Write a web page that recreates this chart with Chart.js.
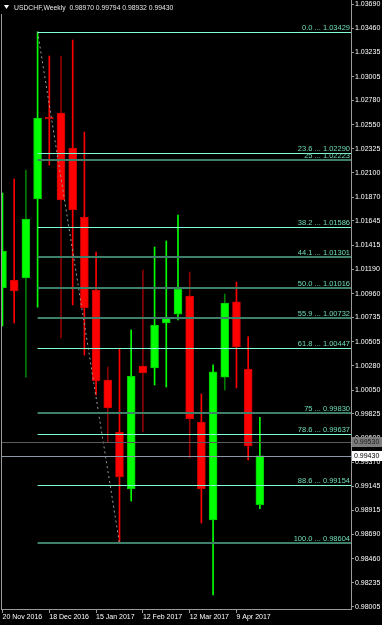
<!DOCTYPE html>
<html><head><meta charset="utf-8">
<script src="https://cdn.jsdelivr.net/npm/chart.js@4.4.1/dist/chart.umd.min.js"></script>
<style>html,body{margin:0;padding:0;background:#000;overflow:hidden}#wrap{position:relative;width:382px;height:625px}</style>
</head><body><div id="wrap"><canvas id="c" width="382" height="625"></canvas></div>
<script>
// ---- data ----
const symbolTitle = 'USDCHF,Weekly';
const lastOHLC = ['0.98970', '0.99794', '0.98932', '0.99430'];
const weeks = ['20 Nov 2016','27 Nov 2016','4 Dec 2016','11 Dec 2016','18 Dec 2016','25 Dec 2016','1 Jan 2017','8 Jan 2017','15 Jan 2017','22 Jan 2017','29 Jan 2017','5 Feb 2017','12 Feb 2017','19 Feb 2017','26 Feb 2017','5 Mar 2017','12 Mar 2017','19 Mar 2017','26 Mar 2017','2 Apr 2017','9 Apr 2017','16 Apr 2017','23 Apr 2017'];
const opens  = [1.01013,1.01088,1.01107,1.01852,1.02625,1.02662,1.02332,1.01682,1.00994,1.00145,0.99655,0.99118,1.00277,1.00258,1.00683,1.00767,1.00937,0.99749,0.98825,1.00173,1.00881,1.00249,0.98970];
const highs  = [1.01908,1.02040,1.02125,1.03429,1.03200,1.03200,1.03351,1.02483,1.01352,1.00268,1.00437,1.00617,1.01182,1.01399,1.01456,1.01701,1.01163,1.00013,1.00287,1.00956,1.01069,1.00551,0.99794];
const lows   = [1.00654,1.00683,1.00173,1.00833,1.02172,1.00541,1.00852,1.00381,1.00004,0.99561,0.98604,0.99004,0.99655,1.00098,1.00079,1.00711,0.99410,0.98797,0.98118,1.00051,1.00070,0.99391,0.98932];
const closes = [1.01361,1.00984,1.01663,1.02615,1.02606,1.01842,1.01748,1.00824,1.00136,0.99881,0.99231,1.00183,1.00211,1.00664,1.00730,1.01003,0.99778,0.99118,1.00221,1.00871,1.00456,0.99523,0.99430];
const priceTicks = [1.03690,1.03460,1.03235,1.03005,1.02780,1.02550,1.02325,1.02100,1.01870,1.01645,1.01415,1.01190,1.00960,1.00735,1.00505,1.00280,1.00050,0.99825,0.99600,0.99370,0.99145,0.98915,0.98690,0.98460,0.98235,0.98005];
const dateTickIdx = [0,4,8,12,16,20];
const fibLevels = ['0.0','23.6','25','38.2','44.1','50.0','55.9','61.8','75','78.6','88.6','100.0'];
const fibPrices = [1.03429,1.02290,1.02223,1.01586,1.01301,1.01016,1.00732,1.00447,0.99830,0.99637,0.99154,0.98604];
const fibFrom = 3, fibTo = 10;
const askPrice = 0.99565, askText = '0.99530';
const bidPrice = 0.99430, bidText = '0.99430';

// ---- styles ----
const UP = '#00ff00', DOWN = '#ff0000';
const darkWicks = {2:'#007a00', 5:'#8c0000', 9:'#8c0000', 12:'#8c0000', 16:'#8c0000', 19:'#007a00'};
const dimFib = {'25':1,'44.1':1,'50.0':1,'55.9':1,'75':1,'100.0':1};
const FONT = '"Liberation Sans", Arial, sans-serif';

const idx = weeks.map((_, i) => i);
const isUp = idx.map(i => closes[i] >= opens[i]);
const bodyData = idx.map(i => ({x: i, y: [opens[i], closes[i]]}));
const wickData = idx.map(i => ({x: i, y: [lows[i], highs[i]]}));

const bgPlugin = {
  id: 'bg',
  beforeDraw(chart) {
    const c = chart.ctx; c.save(); c.fillStyle = '#000'; c.fillRect(0, 0, chart.width, chart.height); c.restore();
  }
};

const overlay = {
  id: 'overlay',
  afterDatasetsDraw(chart) {
    const c = chart.ctx, xs = chart.scales.x, ys = chart.scales.y, a = chart.chartArea;
    c.save();
    const hl = (p, col) => { const y = Math.round(ys.getPixelForValue(p)) + 0.5; c.strokeStyle = col; c.lineWidth = 1; c.beginPath(); c.moveTo(a.left, y); c.lineTo(a.right, y); c.stroke(); };
    hl(askPrice, '#5a5a5a');
    hl(bidPrice, '#8a98aa');
    const x0 = xs.getPixelForValue(fibFrom);
    c.font = '7.5px ' + FONT; c.textAlign = 'right'; c.textBaseline = 'alphabetic';
    fibLevels.forEach((lv, k) => {
      const yy = ys.getPixelForValue(fibPrices[k]);
      const dim = dimFib[lv];
      c.strokeStyle = dim ? '#3f806b' : '#7fffd4';
      c.lineWidth = dim ? 2 : 1;
      const y = dim ? Math.round(yy) : Math.round(yy) + 0.5;
      c.beginPath(); c.moveTo(x0, y); c.lineTo(a.right, y); c.stroke();
      c.fillStyle = '#6edcb4';
      c.fillText(lv + ' ... ' + fibPrices[k].toFixed(5), a.right - 1, Math.round(yy) - 2);
    });
    c.restore();
  },
  afterDraw(chart) {
    const c = chart.ctx, ys = chart.scales.y, a = chart.chartArea;
    c.save();
    c.strokeStyle = '#9a9a9a'; c.lineWidth = 1;
    c.beginPath(); c.moveTo(1.5, 14); c.lineTo(1.5, a.bottom); c.stroke();
    c.font = '7px ' + FONT; c.textAlign = 'left'; c.textBaseline = 'middle';
    const box = (p, txt, bg, fg) => {
      const y = Math.round(ys.getPixelForValue(p));
      c.fillStyle = bg; c.fillRect(a.right + 1, y - 5, 30, 10);
      c.fillStyle = fg; c.fillText(txt, a.right + 3, y + 0.5);
    };
    box(askPrice, askText, '#7c7c7c', '#1a1a1a');
    box(bidPrice, bidText, '#ffffff', '#000000');
    c.fillStyle = '#ffffff';
    c.beginPath(); c.moveTo(4, 5); c.lineTo(9, 5); c.lineTo(6.5, 9); c.closePath(); c.fill();
    c.fillStyle = '#e6e6e6'; c.textBaseline = 'alphabetic';
    c.font = '6.8px ' + FONT;
    c.fillText(symbolTitle + '  ' + lastOHLC.join(' '), 14, 10);
    c.restore();
  }
};

new Chart(document.getElementById('c'), {
  type: 'bar',
  data: {
    datasets: [
      { type: 'line', data: [{x: fibFrom, y: highs[fibFrom]}, {x: fibTo, y: lows[fibTo]}], borderColor: '#9c9c9c', borderWidth: 1, borderDash: [2, 3], pointRadius: 0, fill: false, clip: 0 },
      { data: bodyData, grouped: false, barThickness: 8, backgroundColor: idx.map(i => isUp[i] ? UP : DOWN), borderColor: idx.map(i => isUp[i] ? '#00c800' : '#c80000'), borderWidth: 1, borderSkipped: false, clip: 0 },
      { data: wickData, grouped: false, barThickness: 1, backgroundColor: idx.map(i => darkWicks[i] || (isUp[i] ? UP : DOWN)), borderWidth: 0, clip: 0 }
    ]
  },
  options: {
    responsive: false, animation: false, devicePixelRatio: 1,
    layout: { padding: { left: 1, top: 0, right: 0, bottom: 0 } },
    plugins: { legend: { display: false }, tooltip: { enabled: false }, title: { display: false } },
    scales: {
      x: {
        type: 'linear', min: -0.128, max: 29.79, offset: false,
        afterBuildTicks: s => { s.ticks = dateTickIdx.map(v => ({value: v})); },
        afterFit: s => { s.height = 16; s.paddingLeft = 0; s.paddingRight = 0; },
        ticks: { callback: v => weeks[v], align: 'start', maxRotation: 0, autoSkip: false, padding: 0, color: '#ffffff', font: { size: 7, family: FONT } },
        grid: { drawOnChartArea: false, drawTicks: true, tickLength: 4, color: '#9a9a9a', offset: false },
        border: { display: true, color: '#9a9a9a' }
      },
      y: {
        type: 'linear', position: 'right', min: 0.97986, max: 1.03728,
        afterBuildTicks: s => { s.ticks = priceTicks.map(v => ({value: v})); },
        afterFit: s => { s.width = 31; s.paddingTop = 0; s.paddingBottom = 0; },
        ticks: { callback: v => Number(v).toFixed(5), autoSkip: false, padding: 1, color: '#ffffff', font: { size: 7, family: FONT } },
        grid: { drawOnChartArea: false, drawTicks: true, tickLength: 3, color: '#9a9a9a' },
        border: { display: true, color: '#9a9a9a' }
      }
    }
  },
  plugins: [bgPlugin, overlay]
});
</script></body></html>
